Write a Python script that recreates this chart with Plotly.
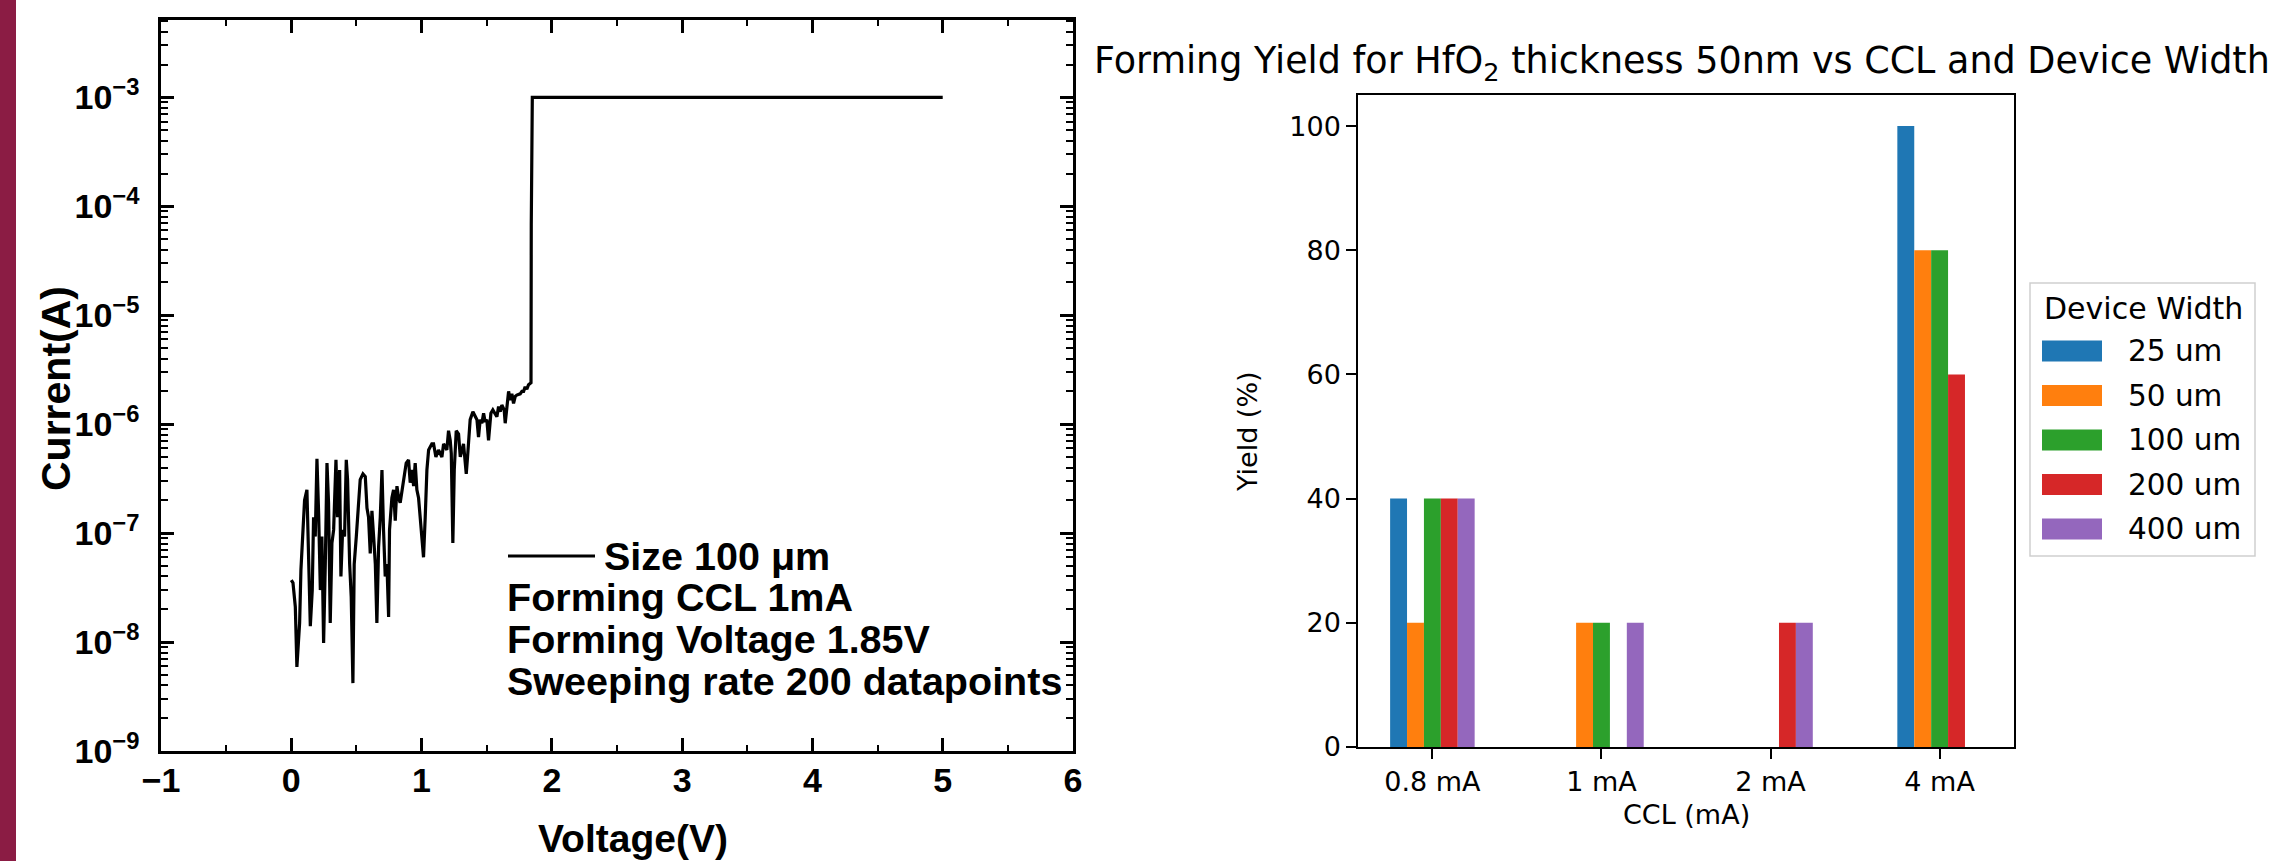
import plotly.graph_objects as go

W, H = 2272, 861

# ---------------- Left chart data (I-V forming sweep) ----------------
voltage = [0.000, 0.013, 0.031, 0.043, 0.064, 0.074, 0.090, 0.102, 0.120, 0.133,
           0.146, 0.161, 0.171, 0.184, 0.197, 0.210, 0.223, 0.235, 0.248, 0.261,
           0.274, 0.286, 0.299, 0.312, 0.325, 0.343, 0.355, 0.371, 0.381, 0.394,
           0.409, 0.422, 0.432, 0.448, 0.460, 0.473, 0.483, 0.499, 0.509, 0.529,
           0.550, 0.568, 0.581, 0.593, 0.606, 0.619, 0.632, 0.645, 0.657, 0.670,
           0.683, 0.696, 0.708, 0.721, 0.734, 0.747, 0.754, 0.772, 0.785, 0.798,
           0.811, 0.824, 0.836, 0.862, 0.882, 0.900, 0.913, 0.926, 0.939, 0.951,
           0.964, 0.977, 0.990, 1.003, 1.015, 1.028, 1.041, 1.054, 1.079, 1.092,
           1.110, 1.130, 1.156, 1.169, 1.194, 1.207, 1.220, 1.228, 1.240, 1.251,
           1.266, 1.284, 1.297, 1.322, 1.343, 1.353, 1.368, 1.373, 1.394, 1.412,
           1.425, 1.437, 1.450, 1.463, 1.476, 1.488, 1.501, 1.514, 1.522, 1.532,
           1.547, 1.565, 1.578, 1.591, 1.604, 1.616, 1.634, 1.642, 1.655, 1.668,
           1.680, 1.693, 1.706, 1.719, 1.731, 1.757, 1.770, 1.783, 1.795, 1.808,
           1.821, 1.840, 1.842, 1.850, 5.000]
current = [3.7e-8, 3.5e-8, 2.1e-8, 5.9e-9, 1.5e-8, 4.6e-8, 1.07e-7, 2.0e-7, 2.5e-7, 5.2e-8,
           1.4e-8, 3.0e-8, 1.4e-7, 9.3e-8, 4.8e-7, 1.5e-7, 3.0e-8, 9.3e-8, 9.8e-9, 5.2e-8,
           4.4e-7, 1.9e-7, 1.5e-8, 8.1e-8, 1.07e-7, 4.7e-7, 1.4e-7, 3.8e-7, 4.0e-8, 1.07e-7,
           9.3e-8, 4.7e-7, 3.1e-7, 5.2e-8, 2.6e-8, 4.2e-9, 5.2e-8, 9.3e-8, 1.4e-7, 3.1e-7,
           3.5e-7, 3.3e-7, 1.7e-7, 1.4e-7, 6.5e-8, 1.6e-7, 9.3e-8, 5.2e-8, 1.5e-8, 7.4e-8,
           1.4e-7, 3.8e-7, 1.07e-7, 4.0e-8, 5.2e-8, 1.7e-8, 1.07e-7, 2.1e-7, 2.5e-7, 1.3e-7,
           2.7e-7, 2.1e-7, 1.9e-7, 3.1e-7, 4.4e-7, 4.7e-7, 2.9e-7, 3.8e-7, 2.7e-7, 4.4e-7,
           2.5e-7, 2.1e-7, 1.4e-7, 9.3e-8, 6.0e-8, 1.4e-7, 3.8e-7, 5.8e-7, 6.6e-7, 6.6e-7,
           5.0e-7, 5.8e-7, 5.0e-7, 6.6e-7, 5.8e-7, 8.7e-7, 7.1e-7, 5.4e-7, 8.1e-8, 3.8e-7,
           8.7e-7, 8.1e-7, 5.0e-7, 6.6e-7, 3.5e-7, 5.0e-7, 8.7e-7, 1.1e-6, 1.3e-6, 1.17e-6,
           1.1e-6, 7.6e-7, 1.1e-6, 1.02e-6, 1.26e-6, 1.05e-6, 1.1e-6, 7.1e-7, 1.02e-6, 1.26e-6,
           1.35e-6, 1.26e-6, 1.17e-6, 1.45e-6, 1.3e-6, 1.5e-6, 1.35e-6, 1.02e-6, 1.55e-6, 2.0e-6,
           1.66e-6, 1.9e-6, 1.55e-6, 1.8e-6, 1.85e-6, 1.9e-6, 2.0e-6, 2.0e-6, 2.2e-6, 2.1e-6,
           2.3e-6, 2.4e-6, 6.8e-5, 1.0e-3, 1.0e-3]
y_tick_vals = [1e-9, 1e-8, 1e-7, 1e-6, 1e-5, 1e-4, 1e-3]
y_tick_text = ["10<sup>−9</sup>", "10<sup>−8</sup>", "10<sup>−7</sup>", "10<sup>−6</sup>",
               "10<sup>−5</sup>", "10<sup>−4</sup>", "10<sup>−3</sup>"]
x_tick_vals = [-1, 0, 1, 2, 3, 4, 5, 6]
legend_label = "Size 100 μm"
info_lines = ["Forming CCL 1mA", "Forming Voltage 1.85V", "Sweeping rate 200 datapoints"]

# ---------------- Right chart data (forming yield) ----------------
ccl_categories = ["0.8 mA", "1 mA", "2 mA", "4 mA"]
width_names = ["25 um", "50 um", "100 um", "200 um", "400 um"]
yield_25 = [40, 0, 0, 100]
yield_50 = [20, 20, 0, 80]
yield_100 = [40, 20, 0, 80]
yield_200 = [40, 0, 20, 60]
yield_400 = [40, 20, 20, 0]
yield_ticks = [0, 20, 40, 60, 80, 100]
bar_colors = ["#1f77b4", "#ff7f0e", "#2ca02c", "#d62728", "#9467bd"]
legend_title = "Device Width"
chart_title = "Forming Yield for HfO<sub>2</sub> thickness 50nm vs CCL and Device Width"

# ---------------- helpers for pixel -> paper ----------------
def px(x):
    return x / W

def py(y):
    return 1 - y / H

ARIAL = "Liberation Sans, Arial, sans-serif"
DEJAVU = "DejaVu Sans, sans-serif"

fig = go.Figure()

fig.add_trace(go.Scatter(
    x=voltage, y=current, mode="lines",
    line=dict(color="black", width=3.2),
    xaxis="x", yaxis="y", showlegend=False, name=legend_label,
))

for name, vals, col in zip(width_names,
                           [yield_25, yield_50, yield_100, yield_200, yield_400],
                           bar_colors):
    fig.add_trace(go.Bar(
        x=ccl_categories, y=vals, name=name, showlegend=False,
        marker=dict(color=col, line=dict(width=0)),
        xaxis="x2", yaxis="y2",
    ))

minor_y = [m * 10 ** e for e in range(-9, -2) for m in range(2, 10)] + [2e-3, 3e-3, 4e-3, 5e-3]

tick_font_left = dict(family=ARIAL, size=34, color="black", weight="bold")

fig.update_layout(
    width=W, height=H,
    margin=dict(l=0, r=0, t=0, b=0, pad=0, autoexpand=False),
    paper_bgcolor="white", plot_bgcolor="white",
    barmode="group", bargap=0.5, bargroupgap=0,
    showlegend=False,
    xaxis=dict(
        domain=[px(161), px(1073)], anchor="y", automargin=False,
        range=[-1, 6], tickmode="array", tickvals=x_tick_vals,
        ticks="inside", ticklen=13, tickwidth=2.5, tickcolor="black",
        minor=dict(ticks="inside", ticklen=6, tickwidth=2, tickcolor="black",
                   tickvals=[-0.5, 0.5, 1.5, 2.5, 3.5, 4.5, 5.5], showgrid=False),
        showline=True, linewidth=2.5, linecolor="black", mirror="ticks",
        showgrid=False, zeroline=False,
        tickfont=tick_font_left, ticklabelstandoff=-3,
    ),
    yaxis=dict(
        domain=[py(751), py(20)], anchor="x", automargin=False,
        type="log", range=[-9, -2.29],
        tickmode="array", tickvals=y_tick_vals, ticktext=y_tick_text,
        ticks="inside", ticklen=13, tickwidth=2.5, tickcolor="black",
        minor=dict(ticks="inside", ticklen=7, tickwidth=2, tickcolor="black",
                   tickvals=minor_y, showgrid=False),
        showline=True, linewidth=2.5, linecolor="black", mirror="ticks",
        showgrid=False, zeroline=False,
        tickfont=tick_font_left, ticklabelstandoff=12,
    ),
    xaxis2=dict(
        domain=[px(1358), px(2014)], anchor="y2", automargin=False,
        type="category", range=[-0.44, 3.44],
        ticks="outside", ticklen=10, tickwidth=1.5, tickcolor="black",
        showline=True, linewidth=1.5, linecolor="black", mirror=True,
        showgrid=False, zeroline=False,
        tickfont=dict(family=DEJAVU, size=27, color="black"),
    ),
    yaxis2=dict(
        domain=[py(747), py(95)], anchor="x2", automargin=False,
        range=[0, 105], tickmode="array", tickvals=yield_ticks,
        ticks="outside", ticklen=10, tickwidth=1.5, tickcolor="black",
        showline=True, linewidth=1.5, linecolor="black", mirror=True,
        showgrid=False, zeroline=False,
        tickfont=dict(family=DEJAVU, size=27, color="black"),
    ),
)

annotations = []
# y-axis title for left chart
annotations.append(dict(
    x=px(56), y=py(388), xref="paper", yref="paper", text="Current(A)", textangle=-90,
    showarrow=False, xanchor="center", yanchor="middle",
    font=dict(family=ARIAL, size=41, color="black", weight="bold")))
# x-axis title for left chart
annotations.append(dict(
    x=px(633), y=py(838), xref="paper", yref="paper", text="Voltage(V)",
    showarrow=False, xanchor="center", yanchor="middle",
    font=dict(family=ARIAL, size=39, color="black", weight="bold")))
# in-plot legend label and info text
annotations.append(dict(
    x=px(602), y=py(556), xref="paper", yref="paper", text=legend_label,
    showarrow=False, xanchor="left", yanchor="middle",
    font=dict(family=ARIAL, size=39.5, color="black", weight="bold")))
for i, line in enumerate(info_lines):
    annotations.append(dict(
        x=px(505), y=py(597 + 42 * i), xref="paper", yref="paper", text=line,
        showarrow=False, xanchor="left", yanchor="middle",
        font=dict(family=ARIAL, size=39.5, color="black", weight="bold")))
# right chart title and axis labels
annotations.append(dict(
    x=px(1682), y=py(63), xref="paper", yref="paper", text=chart_title,
    showarrow=False, xanchor="center", yanchor="middle",
    font=dict(family=DEJAVU, size=36.5, color="black")))
annotations.append(dict(
    x=px(1686), y=py(814), xref="paper", yref="paper", text="CCL (mA)",
    showarrow=False, xanchor="center", yanchor="middle",
    font=dict(family=DEJAVU, size=27, color="black")))
annotations.append(dict(
    x=px(1247), y=py(432), xref="paper", yref="paper", text="Yield (%)", textangle=-90,
    showarrow=False, xanchor="center", yanchor="middle",
    font=dict(family=DEJAVU, size=27, color="black")))

# legend for the bar chart (matplotlib style: wide colour patches)
annotations.append(dict(
    x=px(2042), y=py(309), xref="paper", yref="paper", text=legend_title,
    showarrow=False, xanchor="left", yanchor="middle",
    font=dict(family=DEJAVU, size=30, color="black")))

shapes = [
    # maroon strip at left edge
    dict(type="rect", xref="paper", yref="paper", x0=0, x1=px(16), y0=0, y1=1,
         fillcolor="#8b1c44", line=dict(width=0), layer="above"),
    # legend line sample in left chart
    dict(type="line", xref="paper", yref="paper", x0=px(508), x1=px(595),
         y0=py(556), y1=py(556), line=dict(color="black", width=3)),
    # legend frame of the bar chart
    dict(type="rect", xref="paper", yref="paper", x0=px(2030), x1=px(2255),
         y0=py(556), y1=py(283), fillcolor="white",
         line=dict(color="#cfcfcf", width=1.5), layer="below"),
]
for i, (name, col) in enumerate(zip(width_names, bar_colors)):
    yc = 351 + 44.5 * i
    shapes.append(dict(type="rect", xref="paper", yref="paper",
                       x0=px(2042), x1=px(2102), y0=py(yc + 10.5), y1=py(yc - 10.5),
                       fillcolor=col, line=dict(width=0)))
    annotations.append(dict(
        x=px(2126), y=py(yc), xref="paper", yref="paper", text=name,
        showarrow=False, xanchor="left", yanchor="middle",
        font=dict(family=DEJAVU, size=29.5, color="black")))

fig.update_layout(annotations=annotations, shapes=shapes)

fig.write_html(
    "out.html",
    config={"displayModeBar": False},
    post_script="document.body.style.margin='0px';document.body.style.overflow='hidden';",
)
